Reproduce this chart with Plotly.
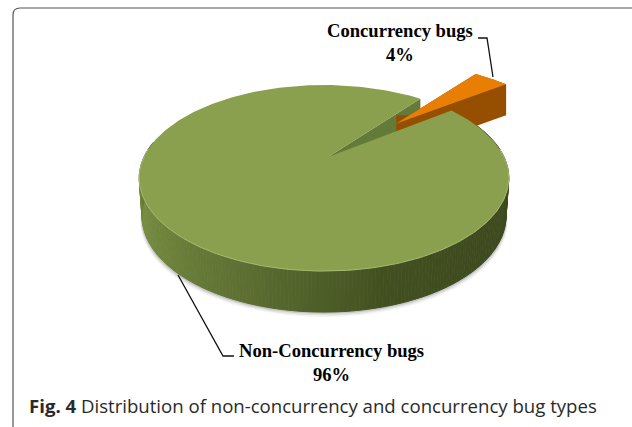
import numpy as np
import plotly.graph_objects as go

# data
categories = ["Concurrency bugs", "Non-Concurrency bugs"]
values = [4, 96]
percent_labels = ["4%", "96%"]
first_slice_start_deg = 39.0
explode = 0.60

# projection of the tilted pie onto the page
CX, HUB_Y, SX, SY, P = 324.0, 157.0, 180.0, 88.3, 0.226

def project(u, v, lift=0.0, xscale=1.0, dx=0.0):
    d = 1 - P * v
    return CX + dx + xscale * SX * u / d, HUB_Y + SY * v / d + lift

def circle(deg):
    t = np.radians(deg)
    return np.sin(t), -np.cos(t)

def depth(v):
    return 37 + 4 * np.asarray(v)

fig = go.Figure()

def poly(x, y, fill, line=None, width=0):
    fig.add_trace(go.Scatter(
        x=list(x), y=list(y), mode="lines", fill="toself", fillcolor=fill,
        line=dict(color=line or "rgba(0,0,0,0)", width=width),
        hoverinfo="skip", showlegend=False))

def side_colour(deg):
    pts = [(90, (62, 76, 30)), (130, (62, 74, 30)), (165, (66, 80, 32)),
           (205, (96, 115, 52)), (250, (122, 144, 66)), (270, (96, 114, 50))]
    cols = [p[1] for p in pts]
    xs = [p[0] for p in pts]
    return tuple(np.interp(deg, xs, [c[i] for c in cols]) for i in range(3))

share = np.array(values, float) / sum(values)
a0 = first_slice_start_deg
a1 = a0 + share[0] * 360
mid = np.radians((a0 + a1) / 2)
ex_u, ex_v = explode * np.sin(mid), -explode * np.cos(mid)

# soft shadow under the pie
arc = np.linspace(80, 280, 200)
u, v = circle(arc)
for grow, alpha in [(5, 0.06), (3.5, 0.10), (2, 0.16)]:
    bx, by = project(u, v, depth(v) + grow, xscale=0.985 + grow * 0.002)
    tx, ty = project(u, v)
    poly(np.r_[tx, bx[::-1]], np.r_[ty, by[::-1]], f"rgba(60,60,60,{alpha})")

# outer wall, shaded strip by strip
edges = np.linspace(60, 280, 221)
for e0, e1 in zip(edges[:-1], edges[1:]):
    arc = np.linspace(e0, e1, 3)
    u, v = circle(arc)
    tx, ty = project(u, v)
    bx, by = project(u, v, depth(v), xscale=0.985)
    c = side_colour((e0 + e1) / 2)
    col = f"rgb({c[0]:.0f},{c[1]:.0f},{c[2]:.0f})"
    poly(np.r_[tx, bx[::-1]], np.r_[ty, by[::-1]], col, col, 1)

# inner cut face seen through the gap
u0, v0 = circle(a0)
hx, hy = project(0, 0)
hx += 4
rx, ry = project(u0, v0)
poly([hx, rx, rx, hx], [hy, ry, ry + 30, hy + 30], "#637A38")

# exploded slice: walls, then main top, then slice top
arc = np.linspace(a0, a1, 30)
u, v = circle(arc)
su = np.r_[ex_u, u + ex_u, ex_u]
sv = np.r_[ex_v, v + ex_v, ex_v]
stx, sty = project(su, sv, dx=1)
lift = 31
poly(np.r_[stx[1:-1], stx[-2], stx[0], stx[0]],
     np.r_[sty[1:-1], sty[-2] + lift, sty[-2] + lift, sty[0]], "#964F00")
poly(np.r_[stx[0], stx[-2], stx[-2], stx[0]],
     np.r_[sty[0], sty[-2], sty[-2] + lift, sty[0] + lift], "#964F00")

# large slice top
arc = np.linspace(a1, a0 + 360, 300)
u, v = circle(arc)
tx, ty = project(u, v)
poly(np.r_[hx, tx, hx], np.r_[hy, ty, hy], "#8AA04E")

# lighter rim along the front edge
arc = np.linspace(85, 275, 150)
u, v = circle(arc)
tx, ty = project(u, v)
fig.add_trace(go.Scatter(x=tx, y=ty, mode="lines", line=dict(color="#A6BA70", width=1),
                         hoverinfo="skip", showlegend=False))

# slice top
poly(stx, sty, "#E87F04")

# leader lines
fig.add_trace(go.Scatter(x=[478, 487, 493], y=[38, 38, 77], mode="lines",
                         line=dict(color="#111", width=1.3), hoverinfo="skip", showlegend=False))
fig.add_trace(go.Scatter(x=[178, 223, 234], y=[275, 356, 356], mode="lines",
                         line=dict(color="#111", width=1.3), hoverinfo="skip", showlegend=False))

serif = dict(family="Liberation Serif", size=18.6, color="#000")
fig.add_annotation(x=400, y=42, text=f"<b>{categories[0]}<br>{percent_labels[0]}</b>",
                   showarrow=False, font=serif, xanchor="center", yanchor="middle", align="center")
fig.add_annotation(x=331, y=362, text=f"<b>{categories[1]}<br>{percent_labels[1]}</b>",
                   showarrow=False, font=serif, xanchor="center", yanchor="middle", align="center")
fig.add_annotation(x=27, y=405, text="<b>Fig. 4</b> Distribution of non-concurrency and concurrency bug types",
                   showarrow=False, xanchor="left", yanchor="middle",
                   font=dict(family="Open Sans", size=18.6, color="#2a2a2a"))

fig.update_layout(
    width=632, height=427, margin=dict(l=0, r=0, t=0, b=0),
    paper_bgcolor="white", plot_bgcolor="white", showlegend=False,
    xaxis=dict(range=[0, 632], visible=False, fixedrange=True),
    yaxis=dict(range=[427, 0], visible=False, fixedrange=True),
    shapes=[dict(type="path", path="M 13 427 L 13 15 Q 13 8 20 8 L 632 8",
                 line=dict(color="#555", width=1.2), layer="below")],
)
fig.write_html("out.html", config={"displayModeBar": False},
               post_script="document.body.style.margin='0';document.body.style.overflow='hidden';")
